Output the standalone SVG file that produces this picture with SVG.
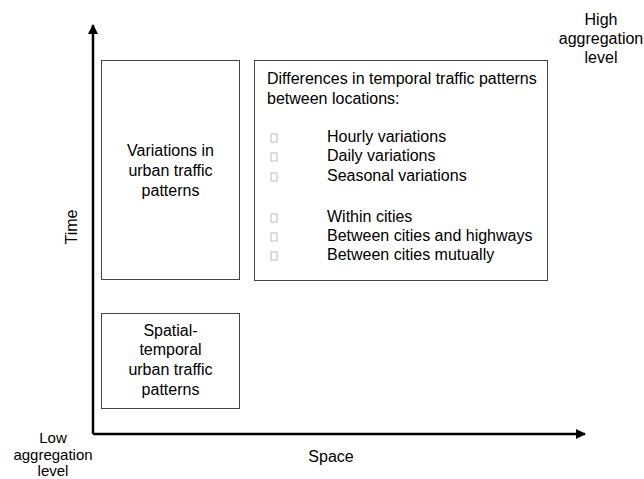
<svg xmlns="http://www.w3.org/2000/svg" width="644" height="479" viewBox="0 0 644 479">
  <style>
    text { font-family: "Liberation Sans", Arial, sans-serif; font-size: 16px; fill: #000; }
    .mid { text-anchor: middle; }
    .small { font-size: 15px; }
    .box { fill: #fff; stroke: #444; stroke-width: 1; }
    .tick { fill: #fff; stroke: #aaa; stroke-width: 0.8; }
    .axis { stroke: #000; stroke-width: 2.5; fill: none; }
  </style>
  <defs>
    <marker id="head" viewBox="0 0 10 10" refX="9" refY="5" markerWidth="4" markerHeight="4" orient="auto" markerUnits="strokeWidth">
      <path d="M0,0 L10,5 L0,10 Z" fill="#000"/>
    </marker>
  </defs>
  <rect width="644" height="479" fill="#fff"/>

  <g id="connectors">
    <path class="axis" d="M93,434 V25" marker-end="url(#head)"/>
    <path class="axis" d="M93,434 H585" marker-end="url(#head)"/>
  </g>

  <g id="axis-labels">
    <text class="mid" transform="translate(77,227) rotate(-90)">Time</text>
    <text class="mid" x="331" y="462">Space</text>
    <text class="mid small" x="53" y="443">Low</text>
    <text class="mid small" x="53" y="460">aggregation</text>
    <text class="mid small" x="53" y="476">level</text>
    <text class="mid" x="601" y="25">High</text>
    <text class="mid" x="601" y="44">aggregation</text>
    <text class="mid" x="601" y="63">level</text>
  </g>

  <g id="variations">
    <rect class="box" x="101.5" y="60.5" width="138" height="219"/>
    <text class="mid" x="170.5" y="156">Variations in</text>
    <text class="mid" x="170.5" y="176">urban traffic</text>
    <text class="mid" x="170.5" y="196">patterns</text>
  </g>

  <g id="spatial-temporal">
    <rect class="box" x="101.5" y="313.5" width="138" height="95"/>
    <text class="mid" x="170.5" y="336">Spatial-</text>
    <text class="mid" x="170.5" y="355">temporal</text>
    <text class="mid" x="170.5" y="375">urban traffic</text>
    <text class="mid" x="170.5" y="395">patterns</text>
  </g>

  <g id="differences">
    <rect class="box" x="254.5" y="60.5" width="293" height="220"/>
    <text x="267" y="84">Differences in temporal traffic patterns</text>
    <text x="267" y="104">between locations:</text>
    <rect class="tick" x="271" y="134" width="6" height="8"/>
    <text x="327" y="142">Hourly variations</text>
    <rect class="tick" x="271" y="153" width="6" height="8"/>
    <text x="327" y="161">Daily variations</text>
    <rect class="tick" x="271" y="173" width="6" height="8"/>
    <text x="327" y="181">Seasonal variations</text>
    <rect class="tick" x="271" y="214" width="6" height="8"/>
    <text x="327" y="222">Within cities</text>
    <rect class="tick" x="271" y="233" width="6" height="8"/>
    <text x="327" y="241">Between cities and highways</text>
    <rect class="tick" x="271" y="252" width="6" height="8"/>
    <text x="327" y="260">Between cities mutually</text>
  </g>
</svg>
